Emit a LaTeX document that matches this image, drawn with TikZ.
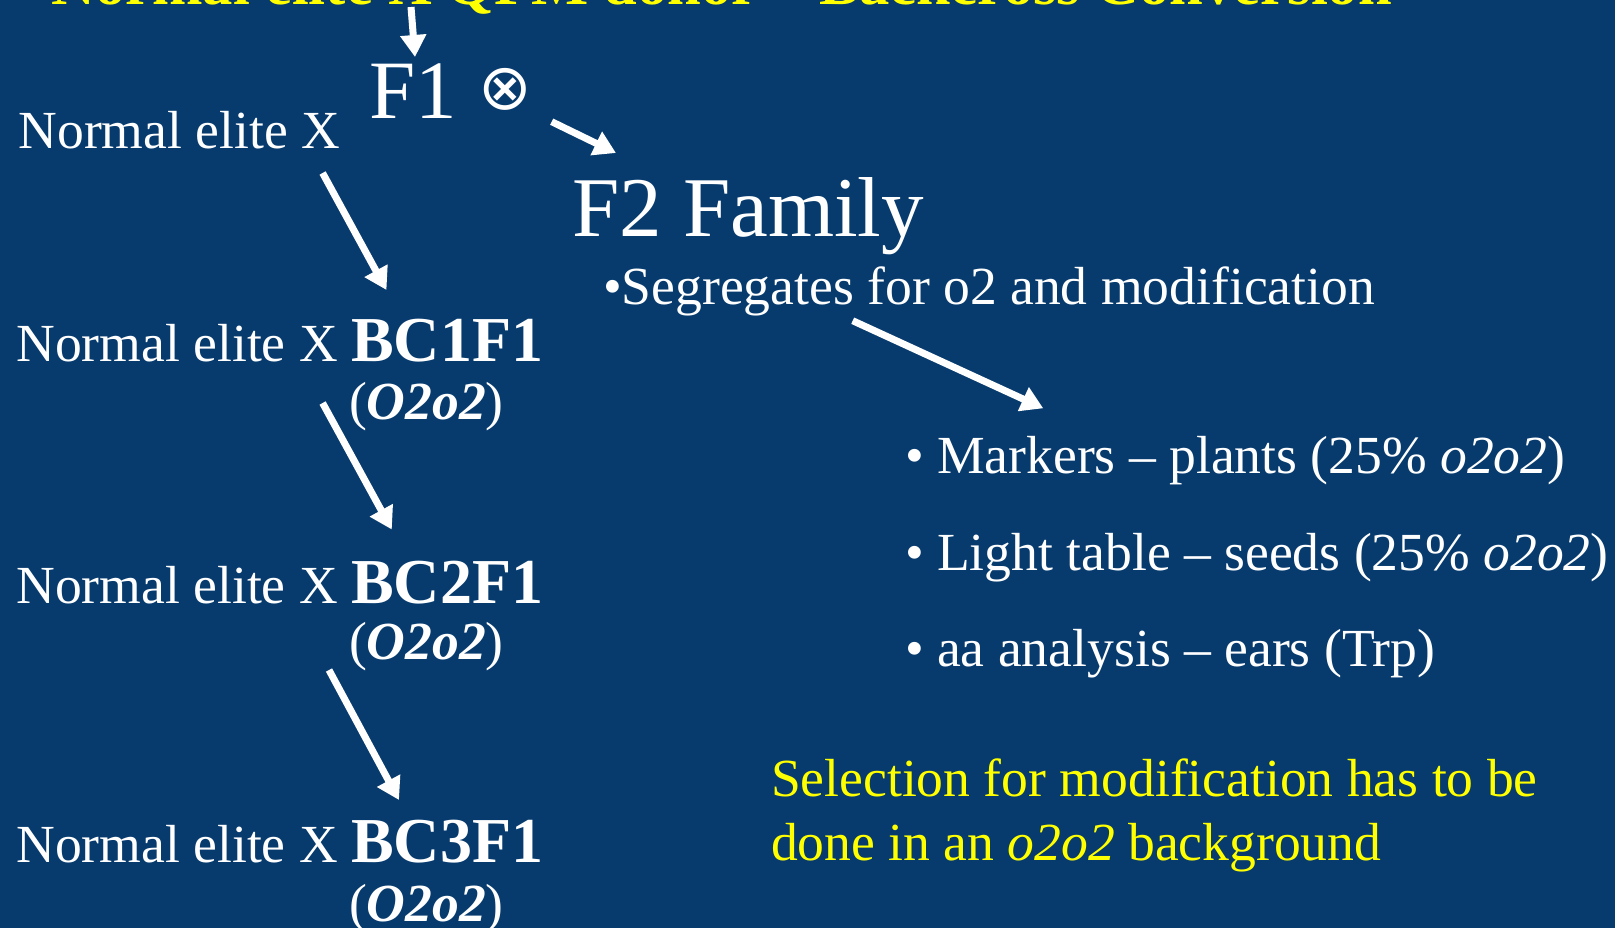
\documentclass[tikz,border=0pt]{standalone}
\usepackage{fontspec}
\setmainfont{Liberation Serif}
\newfontfamily\symfnt{DejaVu Sans}
\usetikzlibrary{arrows.meta}
\definecolor{bgblue}{RGB}{7,59,110}
\definecolor{slideyellow}{RGB}{255,255,0}
\newcommand\fnorm{\fontsize{26.8pt}{32pt}\selectfont}
\newcommand\fbc{\fontsize{32pt}{36pt}\selectfont\bfseries}
\newcommand\fbig{\fontsize{41.5pt}{48pt}\selectfont}
\newcommand\fhuge{\fontsize{42.5pt}{50pt}\selectfont}
\newcommand\ftitle{\fontsize{30.3pt}{36pt}\selectfont\bfseries}
\begin{document}
\begin{tikzpicture}[x=0.5pt,y=-0.5pt,
  txt/.style={anchor=base west,inner sep=0pt,outer sep=0pt,text=white,font=\fnorm},
  ytxt/.style={txt,text=slideyellow},
  arr/.style={draw=white,line width=3.5pt,-{Triangle[length=11pt,width=12.5pt]}}]
\useasboundingbox (0,0) rectangle (1615,928);
\clip (0,0) rectangle (1615,928);
\fill[bgblue] (0,0) rectangle (1615,928);

% title (cut off at top)
\node[ytxt,font=\ftitle] (title) at (51.5,4) {Normal elite X QPM donor – Backcross Conversion};

% left column
\node[txt] (ne0) at (18.5,148) {Normal elite X};
\node[txt,font=\fbig] (f1) at (369,118.5) {F1};
\node[anchor=center,inner sep=0pt,text=white,font=\symfnt\fontsize{32pt}{34pt}\selectfont] (self) at (505,89.3) {⊗};
\node[txt] (bc1) at (16.3,361.5) {Normal elite X {\fbc BC1F1}};
\node[txt] (g1) at (349,419.5) {(\textbf{\textit{O2o2}})};
\node[txt] (bc2) at (16.3,603) {Normal elite X {\fbc BC2F1}};
\node[txt] (g2) at (349,659.7) {(\textbf{\textit{O2o2}})};
\node[txt] (bc3) at (16.3,862) {Normal elite X {\fbc BC3F1}};
\node[txt] (g3) at (349,921) {(\textbf{\textit{O2o2}})};

% right column
\node[txt,font=\fhuge] (f2) at (572,236.7) {F2 Family};
\node[txt] (seg) at (603,304.5) {•Segregates for o2 and modification};
\node[txt] (m1) at (905,473.5) {• Markers – plants (25\% \textit{o2o2})};
\node[txt] (m2) at (905,570) {• Light table – seeds (25\% \textit{o2o2})};
\node[txt] (m3) at (905,666.7) {• aa analysis – ears (Trp)};
\node[ytxt] (sel1) at (771,796.7) {Selection for modification has to be};
\node[ytxt] (sel2) at (771,860) {done in an \textit{o2o2} background};

% arrow end points
\coordinate (a1s) at (411,7);      \coordinate (a1e) at (415,57);
\coordinate (a2s) at (551.7,121.7); \coordinate (a2e) at (616,153);
\coordinate (a3s) at (322.6,173);  \coordinate (a3e) at (386.5,290);
\coordinate (a4s) at (322.6,403);  \coordinate (a4e) at (391.8,529.5);
\coordinate (a5s) at (329,670);    \coordinate (a5e) at (399,800);
\coordinate (a6s) at (852.7,320.7); \coordinate (a6e) at (1043.3,408.3);

\draw[arr] (a1s) -- (a1e);
\draw[arr] (a2s) -- (a2e);
\draw[arr] (a3s) -- (a3e);
\draw[arr] (a4s) -- (a4e);
\draw[arr] (a5s) -- (a5e);
\draw[arr] (a6s) -- (a6e);
\end{tikzpicture}
\end{document}
